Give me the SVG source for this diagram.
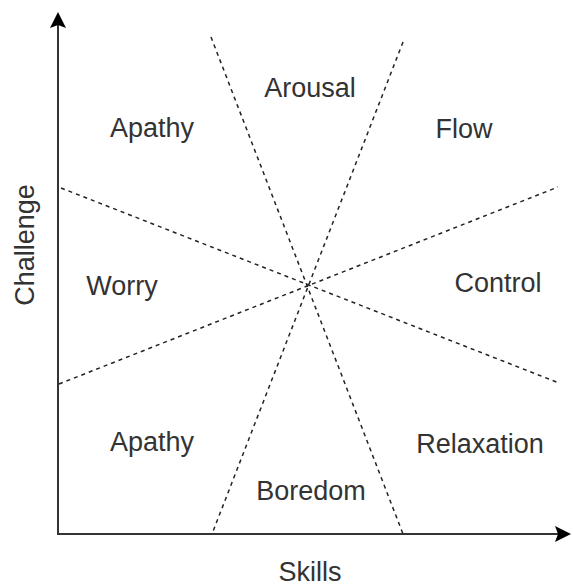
<svg xmlns="http://www.w3.org/2000/svg" width="573" height="586" viewBox="0 0 573 586">
<style>
.lbl{font-family:"Liberation Sans",Arial,sans-serif;font-size:27px;fill:#333;text-anchor:middle}
.axis{stroke:#333;stroke-width:2;fill:none}
.dash{stroke:#222;stroke-width:1.5;stroke-dasharray:4 4;fill:none}
</style>
<rect width="573" height="586" fill="#fff"/>
<g id="connectors">
<line class="axis" x1="58" y1="535" x2="58" y2="14"/>
<path d="M58,12 L50,28 L58,25 L66,28 Z" fill="#000"/>
<line class="axis" x1="58" y1="534" x2="568" y2="534"/>
<path d="M571,534 L555,526 L558,534 L555,542 Z" fill="#000"/>
<line class="dash" x1="211" y1="37" x2="403" y2="534"/>
<line class="dash" x1="403" y1="42" x2="212" y2="534"/>
<line class="dash" x1="61" y1="188" x2="559" y2="383"/>
<line class="dash" x1="59" y1="384" x2="558" y2="187"/>
</g>
<g id="arousal"><text class="lbl" x="310" y="97">Arousal</text></g>
<g id="apathy-top"><text class="lbl" x="152" y="137">Apathy</text></g>
<g id="flow"><text class="lbl" x="464" y="138">Flow</text></g>
<g id="worry"><text class="lbl" x="122" y="295">Worry</text></g>
<g id="control"><text class="lbl" x="498" y="292">Control</text></g>
<g id="apathy-bottom"><text class="lbl" x="152" y="451">Apathy</text></g>
<g id="relaxation"><text class="lbl" x="480" y="453">Relaxation</text></g>
<g id="boredom"><text class="lbl" x="311" y="500">Boredom</text></g>
<g id="skills"><text class="lbl" x="310" y="581">Skills</text></g>
<g id="challenge"><text class="lbl" transform="translate(34,245) rotate(-90)">Challenge</text></g>
</svg>
